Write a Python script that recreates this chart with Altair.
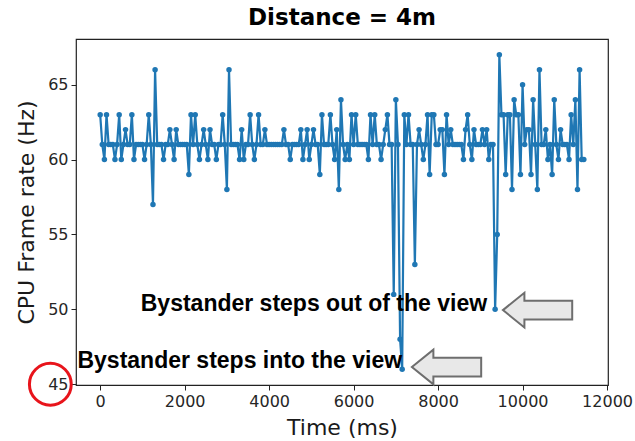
import altair as alt
import pandas as pd

# Sample timestamps (ms), one row per 500 ms
time_ms = [
    0, 50, 100, 150, 200, 250, 300, 350, 400, 450,
    500, 550, 600, 650, 700, 750, 800, 850, 900, 950,
    1000, 1050, 1100, 1150, 1200, 1250, 1300, 1350, 1400, 1450,
    1500, 1550, 1600, 1650, 1700, 1750, 1800, 1850, 1900, 1950,
    2000, 2050, 2100, 2150, 2200, 2250, 2300, 2350, 2400, 2450,
    2500, 2550, 2600, 2650, 2700, 2750, 2800, 2850, 2900, 2950,
    3000, 3050, 3100, 3150, 3200, 3250, 3300, 3350, 3400, 3450,
    3500, 3550, 3600, 3650, 3700, 3750, 3800, 3850, 3900, 3950,
    4000, 4050, 4100, 4150, 4200, 4250, 4300, 4350, 4400, 4450,
    4500, 4550, 4600, 4650, 4700, 4750, 4800, 4850, 4900, 4950,
    5000, 5050, 5100, 5150, 5200, 5250, 5300, 5350, 5400, 5450,
    5500, 5550, 5600, 5650, 5700, 5750, 5800, 5850, 5900, 5950,
    6000, 6050, 6100, 6150, 6200, 6250, 6300, 6350, 6400, 6450,
    6500, 6550, 6600, 6650, 6700, 6750, 6800, 6850, 6900, 6950,
    7000, 7050, 7100, 7150, 7200, 7250, 7300, 7350, 7400, 7450,
    7500, 7550, 7600, 7650, 7700, 7750, 7800, 7850, 7900, 7950,
    8000, 8050, 8100, 8150, 8200, 8250, 8300, 8350, 8400, 8450,
    8500, 8550, 8600, 8650, 8700, 8750, 8800, 8850, 8900, 8950,
    9000, 9050, 9100, 9150, 9200, 9250, 9300, 9350, 9400, 9450,
    9500, 9550, 9600, 9650, 9700, 9750, 9800, 9850, 9900, 9950,
    10000, 10050, 10100, 10150, 10200, 10250, 10300, 10350, 10400, 10450,
    10500, 10550, 10600, 10650, 10700, 10750, 10800, 10850, 10900, 10950,
    11000, 11050, 11100, 11150, 11200, 11250, 11300, 11350, 11400, 11450,
]

# CPU frame rate (Hz) at each timestamp
frame_rate = [
    63, 61, 60, 63, 61, 61, 61, 60, 61, 63,
    60, 61, 62, 61, 61, 63, 60, 61, 61, 61,
    61, 60, 61, 63, 61, 57, 66, 61, 61, 61,
    60, 61, 61, 62, 61, 60, 62, 61, 61, 61,
    61, 61, 59, 63, 61, 63, 61, 60, 61, 62,
    61, 60, 62, 61, 61, 60, 61, 61, 63, 61,
    58, 66, 61, 61, 61, 61, 60, 62, 60, 61,
    61, 63, 61, 60, 61, 63, 61, 61, 62, 61,
    61, 61, 61, 61, 61, 61, 61, 62, 61, 61,
    60, 61, 61, 61, 61, 62, 60, 61, 62, 60,
    61, 62, 61, 61, 59, 63, 61, 61, 61, 63,
    61, 60, 62, 58, 64, 61, 60, 61, 60, 63,
    61, 63, 61, 61, 61, 61, 61, 60, 63, 61,
    63, 61, 61, 60, 61, 62, 63, 61, 61, 51,
    64, 61, 48, 46, 63, 61, 63, 61, 61, 53,
    61, 62, 61, 60, 61, 63, 59, 63, 63, 61,
    61, 62, 62, 59, 63, 61, 62, 61, 61, 61,
    61, 61, 60, 62, 63, 61, 60, 62, 61, 61,
    61, 62, 61, 62, 60, 61, 61, 50, 55, 67,
    63, 63, 59, 63, 63, 58, 64, 63, 63, 59,
    65, 61, 62, 62, 59, 64, 61, 58, 66, 61,
    61, 62, 60, 61, 59, 64, 61, 60, 62, 61,
    61, 61, 60, 63, 61, 64, 58, 66, 60, 60,
]

x_ticks = [0, 2000, 4000, 6000, 8000, 10000, 12000]
y_ticks = [45, 50, 55, 60, 65]
x_domain = [-572.5, 12022.5]
y_domain = [44.95, 68.05]

# Annotation texts, anchored at their right end (time, Hz)
note_text = ["Bystander steps out of the view", "Bystander steps into the view"]
note_time = [9160, 7148]
note_hz = [50.35, 46.55]

# Block arrows pointing at the events (centre in time, Hz)
arrow_time = [10355, 8200]
arrow_hz = [49.95, 46.15]

# Highlight ring around the lowest y tick label
ring_time = [-1180]
ring_hz = [45.0]

BLUE = "#1f77b4"
ARROW_PATH = "M -1 0 L -0.38 -0.5 L -0.38 -0.27 L 1 -0.27 L 1 0.27 L -0.38 0.27 L -0.38 0.5 Z"

series = pd.DataFrame({"t": time_ms, "fps": frame_rate})
notes = pd.DataFrame({"t": note_time, "fps": note_hz, "label": note_text})
arrows = pd.DataFrame({"t": arrow_time, "fps": arrow_hz})
ring = pd.DataFrame({"t": ring_time, "fps": ring_hz})

x_enc = alt.X(
    "t:Q",
    scale=alt.Scale(domain=x_domain, nice=False, zero=False),
    axis=alt.Axis(values=x_ticks, format="d", title="Time (ms)", labelFlush=False),
)
y_enc = alt.Y(
    "fps:Q",
    scale=alt.Scale(domain=y_domain, nice=False, zero=False),
    axis=alt.Axis(values=y_ticks, format="d", title="CPU Frame rate (Hz)", labelFlush=False),
)

line = alt.Chart(series).mark_line(
    color=BLUE,
    strokeWidth=2.2,
    point=alt.OverlayMarkDef(filled=True, size=30, color=BLUE, opacity=1),
).encode(x=x_enc, y=y_enc)

arrow_marks = alt.Chart(arrows).mark_point(
    shape=ARROW_PATH,
    size=4800,
    filled=True,
    fill="#e8e8e8",
    fillOpacity=1,
    stroke="#6e6e6e",
    strokeWidth=2,
    opacity=1,
    clip=False,
).encode(x="t:Q", y="fps:Q")

note_marks = alt.Chart(notes).mark_text(
    align="right",
    baseline="middle",
    font="Liberation Sans",
    fontWeight="bold",
    fontSize=23,
    color="#000000",
).encode(x="t:Q", y="fps:Q", text="label:N")

ring_mark = alt.Chart(ring).mark_point(
    shape="circle",
    size=1750,
    filled=False,
    stroke="#e8141b",
    strokeWidth=3,
    opacity=1,
    clip=False,
).encode(x="t:Q", y="fps:Q")

chart = (
    alt.layer(line, note_marks, arrow_marks, ring_mark)
    .properties(
        width=532,
        height=346,
        autosize="none",
        padding={"left": 76, "top": 39, "right": 27, "bottom": 56},
        title=alt.TitleParams(
            "Distance = 4m",
            font="DejaVu Sans",
            fontSize=23,
            fontWeight="bold",
            color="#000000",
            anchor="middle",
            offset=9,
        ),
    )
    .configure_view(stroke="#222222", strokeWidth=1.2)
    .configure_axis(
        grid=False,
        domain=False,
        tickColor="#222222",
        tickSize=5,
        labelFont="DejaVu Sans",
        labelFontSize=16,
        labelColor="#262626",
        labelPadding=3,
        titleFont="DejaVu Sans",
        titleFontSize=22,
        titleFontWeight="normal",
        titleColor="#1a1a1a",
    )
    .configure_axisX(titlePadding=8)
    .configure_axisY(titlePadding=9)
)

chart.save("out.html", embed_options={"renderer": "svg", "actions": False})
